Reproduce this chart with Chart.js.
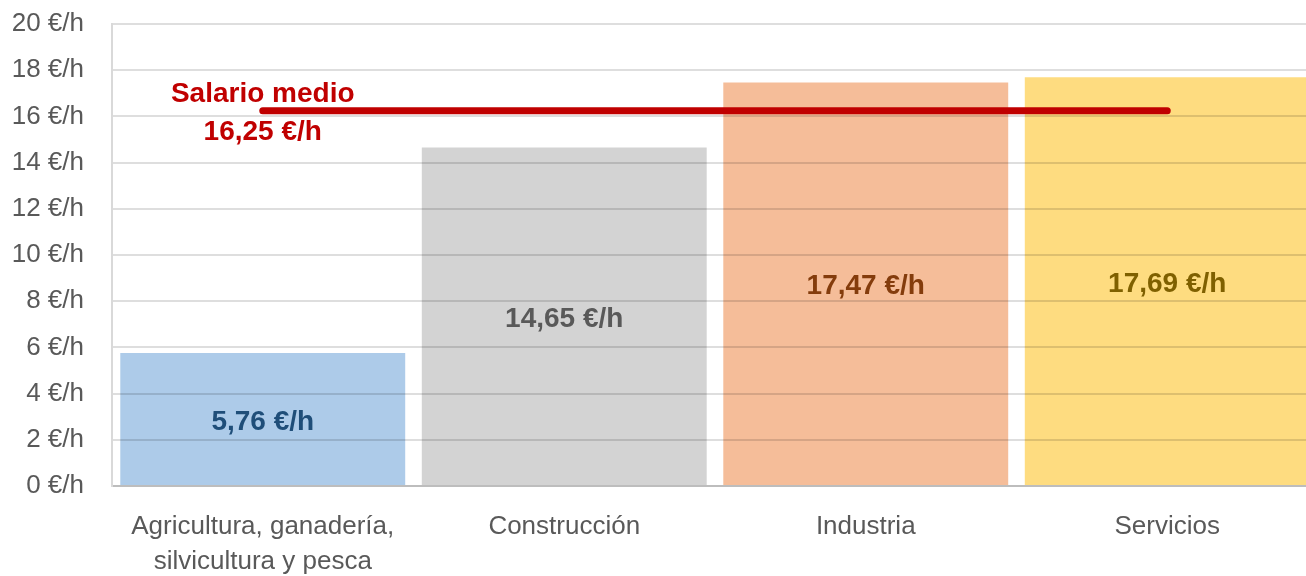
<!DOCTYPE html>
<html>
<head>
<meta charset="utf-8">
<script src="https://cdn.jsdelivr.net/npm/chart.js@4/dist/chart.umd.min.js"></script>
<style>
html,body{margin:0;padding:0;background:#fff;overflow:hidden;}
#wrap{width:1318px;height:576px;position:relative;}
</style>
</head>
<body>
<div id="wrap"><canvas id="c"></canvas></div>
<script>
const categories = [
  ['Agricultura, ganadería,', 'silvicultura y pesca'],
  'Construcción',
  'Industria',
  'Servicios'
];
const salaries = [5.76, 14.65, 17.47, 17.69];
const averageSalary = 16.25;
const averageLabel = 'Salario medio';
const yTicks = [0, 2, 4, 6, 8, 10, 12, 14, 16, 18, 20];
const unit = ' €/h';

const barColors = ['#ADCBE9', '#D3D3D3', '#F5BD99', '#FEDC80'];
const labelColors = ['#1F4E79', '#595959', '#843C0C', '#7F6000'];
const FONT = '"Liberation Sans", Arial, sans-serif';

function fmt(v) { return v.toFixed(2).replace('.', ',') + unit; }

const labelPlugin = {
  id: 'labels',
  afterDraw(chart) {
    const ctx = chart.ctx;
    ctx.save();
    ctx.textAlign = 'center';
    ctx.textBaseline = 'middle';
    ctx.font = 'bold 28px ' + FONT;
    const barMeta = chart.getDatasetMeta(0);
    barMeta.data.forEach((bar, i) => {
      const y = (bar.y + bar.base) / 2 + 3;
      ctx.fillStyle = labelColors[i];
      ctx.fillText(fmt(salaries[i]), bar.x, y);
    });
    const lineMeta = chart.getDatasetMeta(1);
    const p = lineMeta.data[0];
    ctx.fillStyle = '#C00000';
    ctx.fillText(averageLabel, p.x, p.y - 16);
    ctx.fillText(fmt(averageSalary), p.x, p.y + 22);
    ctx.restore();
  }
};

new Chart(document.getElementById('c'), {
  data: {
    labels: categories,
    datasets: [
      {
        type: 'bar',
        data: salaries,
        backgroundColor: barColors,
        barPercentage: 0.945,
        categoryPercentage: 1,
        order: 2
      },
      {
        type: 'line',
        data: categories.map(() => averageSalary),
        borderColor: '#C00000',
        borderWidth: 7,
        borderCapStyle: 'round',
        pointRadius: 0,
        fill: false,
        order: 1
      }
    ]
  },
  options: {
    responsive: true,
    maintainAspectRatio: false,
    animation: false,
    layout: { padding: { top: 24, left: 0, right: 0, bottom: 0 } },
    plugins: { legend: { display: false }, tooltip: { enabled: false } },
    scales: {
      x: {
        grid: { display: false, drawTicks: false },
        border: { display: true, color: '#D9D9D9', width: 2 },
        ticks: { color: '#595959', font: { family: FONT, size: 26, lineHeight: 1.35 }, padding: 23, maxRotation: 0 },
        afterFit(s) { s.height = 90; s.paddingLeft = 0; s.paddingRight = 0; }
      },
      y: {
        min: 0, max: 20,
        afterBuildTicks(s) { s.ticks = yTicks.map(v => ({ value: v })); },
        grid: { color: 'rgba(0,0,0,0.13)', lineWidth: 2, drawTicks: false, z: 1 },
        border: { display: true, color: '#D9D9D9', width: 2, z: 1 },
        ticks: {
          color: '#595959', font: { family: FONT, size: 26 }, padding: 28,
          callback: v => v + unit
        },
        afterFit(s) { s.width = 112; s.paddingTop = 0; s.paddingBottom = 0; }
      }
    }
  },
  plugins: [labelPlugin]
});
</script>
</body>
</html>
